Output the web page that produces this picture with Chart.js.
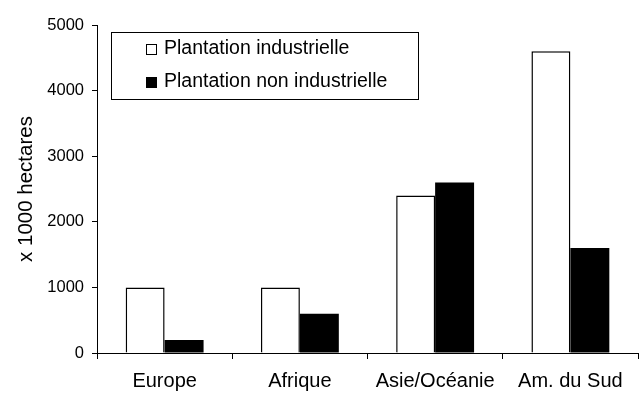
<!DOCTYPE html>
<html>
<head>
<meta charset="utf-8">
<script src="https://cdn.jsdelivr.net/npm/chart.js@4"></script>
<style>
  html, body { margin: 0; padding: 0; background: #fff; }
  #wrap { width: 644px; height: 406px; }
</style>
</head>
<body>
<div id="wrap"><canvas id="myChart" width="644" height="406"></canvas></div>
<script>
// plantation areas by region, x 1000 ha
const regions = ['Europe', 'Afrique', 'Asie/Océanie', 'Am. du Sud'];
const industrielle = [1000, 1000, 2400, 4600];
const nonIndustrielle = [200, 600, 2600, 1600];
const seriesNames = ['Plantation industrielle', 'Plantation non industrielle'];
const yTicks = [0, 1000, 2000, 3000, 4000, 5000];

const FONT = '"Liberation Sans", Arial, sans-serif';

// legend drawn as a boxed list inside the plot area
const boxLegend = {
    id: 'boxLegend',
    afterDraw(chart) {
        const ctx = chart.ctx;
        const x = 111.5, y = 32.5, w = 307, h = 67;
        ctx.save();
        ctx.strokeStyle = '#000';
        ctx.lineWidth = 1;
        ctx.fillStyle = '#fff';
        ctx.fillRect(x, y, w, h);
        ctx.strokeRect(x, y, w, h);
        ctx.font = '19.5px ' + FONT;
        ctx.textBaseline = 'middle';
        chart.data.datasets.forEach((ds, i) => {
            const cy = 49 + i * 33;
            ctx.fillStyle = ds.backgroundColor;
            ctx.fillRect(146.5, cy - 4.5, 10, 10);
            ctx.strokeRect(146.5, cy - 4.5, 10, 10);
            ctx.fillStyle = '#000';
            ctx.fillText(ds.label, 164, cy);
        });
        ctx.restore();
    }
};

const ctx = document.getElementById('myChart').getContext('2d');
new Chart(ctx, {
    type: 'bar',
    data: {
        labels: regions,
        datasets: [{
            label: seriesNames[0],
            data: industrielle,
            backgroundColor: '#ffffff',
            borderColor: '#000000',
            borderWidth: 1.5,
            borderSkipped: 'bottom'
        }, {
            label: seriesNames[1],
            data: nonIndustrielle,
            backgroundColor: '#000000',
            borderColor: '#000000',
            borderWidth: 0
        }]
    },
    options: {
        responsive: false,
        animation: false,
        layout: { padding: { top: 25, right: 6, left: 0, bottom: 0 } },
        plugins: {
            legend: { display: false },
            tooltip: { enabled: false }
        },
        datasets: {
            bar: { categoryPercentage: 0.576, barPercentage: 1.0 }
        },
        scales: {
            x: {
                grid: {
                    offset: true,
                    drawOnChartArea: false,
                    drawTicks: true,
                    tickLength: 6,
                    color: '#000'
                },
                border: { color: '#000', width: 1 },
                ticks: {
                    color: '#000',
                    font: { family: FONT, size: 20 },
                    padding: 10,
                    maxRotation: 0
                },
                afterFit(scale) { scale.height = 53; }
            },
            y: {
                min: 0,
                max: 5000,
                afterBuildTicks(scale) {
                    scale.ticks = yTicks.map(v => ({ value: v }));
                },
                grid: {
                    drawOnChartArea: false,
                    drawTicks: true,
                    tickLength: 5,
                    color: '#000'
                },
                border: { color: '#000', width: 1 },
                ticks: {
                    color: '#000',
                    font: { family: FONT, size: 16.5 },
                    padding: 8,
                    callback: v => String(v)
                },
                title: {
                    display: true,
                    text: 'x 1000 hectares',
                    color: '#000',
                    font: { family: FONT, size: 20.5 },
                    padding: { top: 14, bottom: 0 }
                },
                afterFit(scale) { scale.width = 97; }
            }
        }
    },
    plugins: [boxLegend]
});
</script>
</body>
</html>
